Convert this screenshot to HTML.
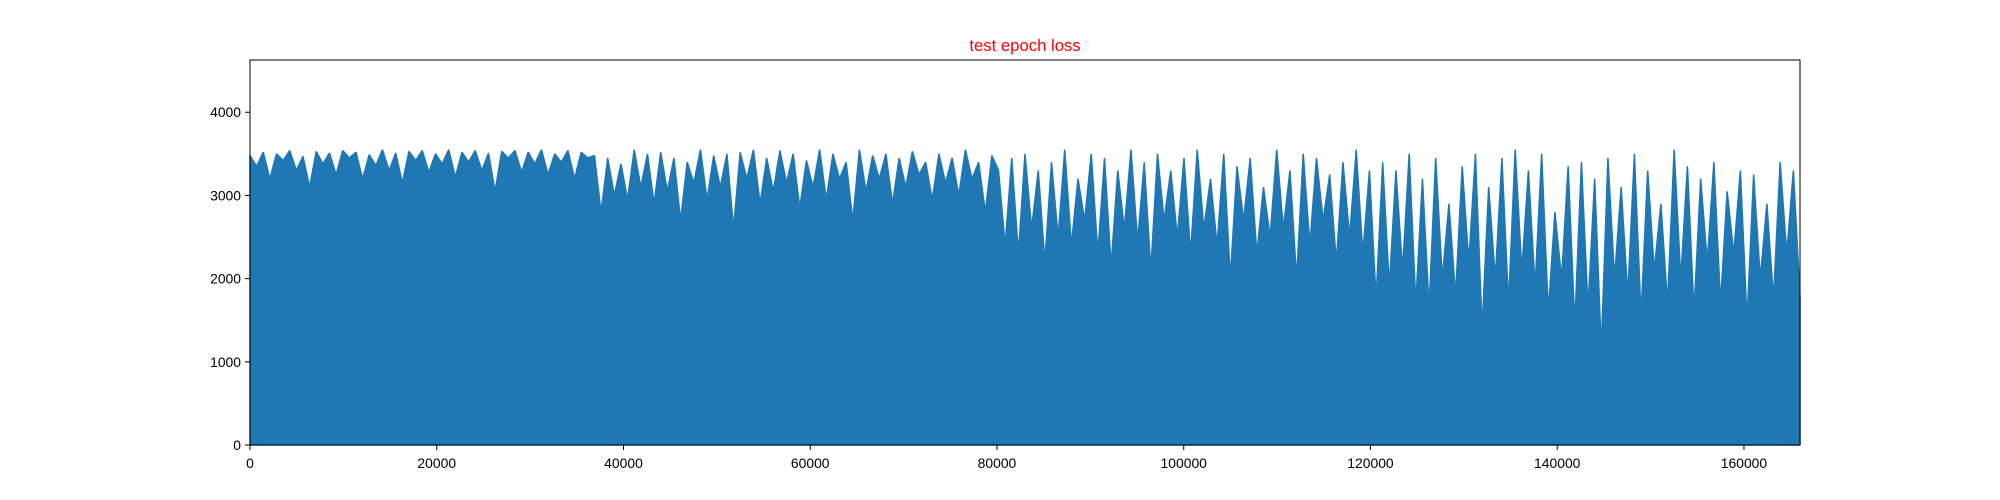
<!DOCTYPE html>
<html><head><meta charset="utf-8"><style>
html,body{margin:0;padding:0;background:#fff;}
svg{display:block;font-family:"Liberation Sans","DejaVu Sans",sans-serif;}
</style></head><body>
<svg id="chart" width="2000" height="500" viewBox="0 0 2000 500" xmlns="http://www.w3.org/2000/svg">
<rect x="0" y="0" width="2000" height="500" fill="#fff"/>
<text x="1025" y="51" text-anchor="middle" font-size="16.7" fill="#ff0000">test epoch loss</text>
<g id="plot"></g>
<g id="axes"></g>
</svg>
<script>
const xTicks = [0,20000,40000,60000,80000,100000,120000,140000,160000];
const yTicks = [0,1000,2000,3000,4000];
const lastEpoch = 166000;
const values = [
3480,3350,3520,3200,3500,3420,3540,3300,3470,3100,3530,3380,3510,3250,3540,3450,3520,3200,3490,3360,3550,3300,3510,3150,3530,3420,3540,3280,3500,3380,3550,3220,3520,3400,3540,3300,3510,3050,3530,3450,3540,3280,3520,3380,3550,3250,3500,3400,3540,3200,3520,3450,3480,
2800,3450,3000,3380,2950,3550,3100,3500,2900,3520,3050,3450,2700,3400,3150,3550,2950,3480,3100,3500,2600,3520,3200,3550,2900,3450,3050,3540,3150,3500,2850,3420,3100,3550,2950,3500,3200,3400,2700,3550,3050,3480,3200,3500,2900,3450,3100,3530,3250,3400,2950,3500,3150,3450,3000,3550,3200,3400,2800,3480,3300,
2400,3450,2300,3500,2600,3300,2200,3400,2500,3550,2400,3200,2700,3500,2300,3450,2150,3300,2600,3550,2450,3400,2100,3500,2700,3300,2500,3450,2300,3550,2600,3200,2400,3500,2000,3350,2700,3450,2300,3100,2500,3550,2600,3300,2000,3500,2400,3450,2700,3250,2200,3400,2500,3550,2300,3300,1750,
3400,1900,3300,2100,3500,1700,3200,1650,3450,2000,2900,1800,3350,2200,3500,1400,3100,2000,3450,1700,3550,2100,3300,1900,3500,1600,2800,2000,3350,1450,3400,1650,3200,1150,3450,2000,3100,1800,3500,1550,3300,2100,2900,1700,3550,2000,3350,1600,3200,2200,3400,1700,3050,2300,3300,1500,3250,2000,2900,1750,3400,2300,3300,1780
];
const L=250,R=1800,T=60,B=445;
const xMax=166000,yMax=4628;
const sx=v=>L+(v/xMax)*(R-L);
const sy=v=>B-(v/yMax)*(B-T);
const NS="http://www.w3.org/2000/svg";
const plot=document.getElementById('plot');
const axes=document.getElementById('axes');
const n=values.length;
let d='M'+sx(0)+','+sy(0);
values.forEach((v,i)=>{d+=' L'+sx(i*lastEpoch/(n-1)).toFixed(2)+','+sy(v).toFixed(2);});
d+=' L'+sx(lastEpoch)+','+sy(0)+' Z';
const area=document.createElementNS(NS,'path');
area.setAttribute('d',d);
area.setAttribute('fill','#1f77b4');
area.setAttribute('stroke','#1f77b4');
area.setAttribute('stroke-width','1.5');
area.setAttribute('stroke-linejoin','bevel');


plot.appendChild(area);
const frame=document.createElementNS(NS,'rect');
frame.setAttribute('x',L);frame.setAttribute('y',T);
frame.setAttribute('width',R-L);frame.setAttribute('height',B-T);
frame.setAttribute('fill','none');frame.setAttribute('stroke','#000');frame.setAttribute('stroke-width','1');


axes.appendChild(frame);
xTicks.forEach(t=>{
 const x=sx(t);
 const ln=document.createElementNS(NS,'line');
 ln.setAttribute('x1',x);ln.setAttribute('x2',x);ln.setAttribute('y1',B);ln.setAttribute('y2',B+5);
 ln.setAttribute('stroke','#000');
 
 
 axes.appendChild(ln);
 const tx=document.createElementNS(NS,'text');
 tx.setAttribute('x',x);tx.setAttribute('y',B+23);tx.setAttribute('text-anchor','middle');tx.setAttribute('font-size','13.9');
 tx.textContent=t;
 
 
 axes.appendChild(tx);
});
yTicks.forEach(t=>{
 const y=sy(t);
 const ln=document.createElementNS(NS,'line');
 ln.setAttribute('x1',L-5);ln.setAttribute('x2',L);ln.setAttribute('y1',y);ln.setAttribute('y2',y);
 ln.setAttribute('stroke','#000');
 
 
 axes.appendChild(ln);
 const tx=document.createElementNS(NS,'text');
 tx.setAttribute('x',L-9);tx.setAttribute('y',y+5);tx.setAttribute('text-anchor','end');tx.setAttribute('font-size','13.9');
 tx.textContent=t;
 
 
 axes.appendChild(tx);
});
</script>
</body></html>
